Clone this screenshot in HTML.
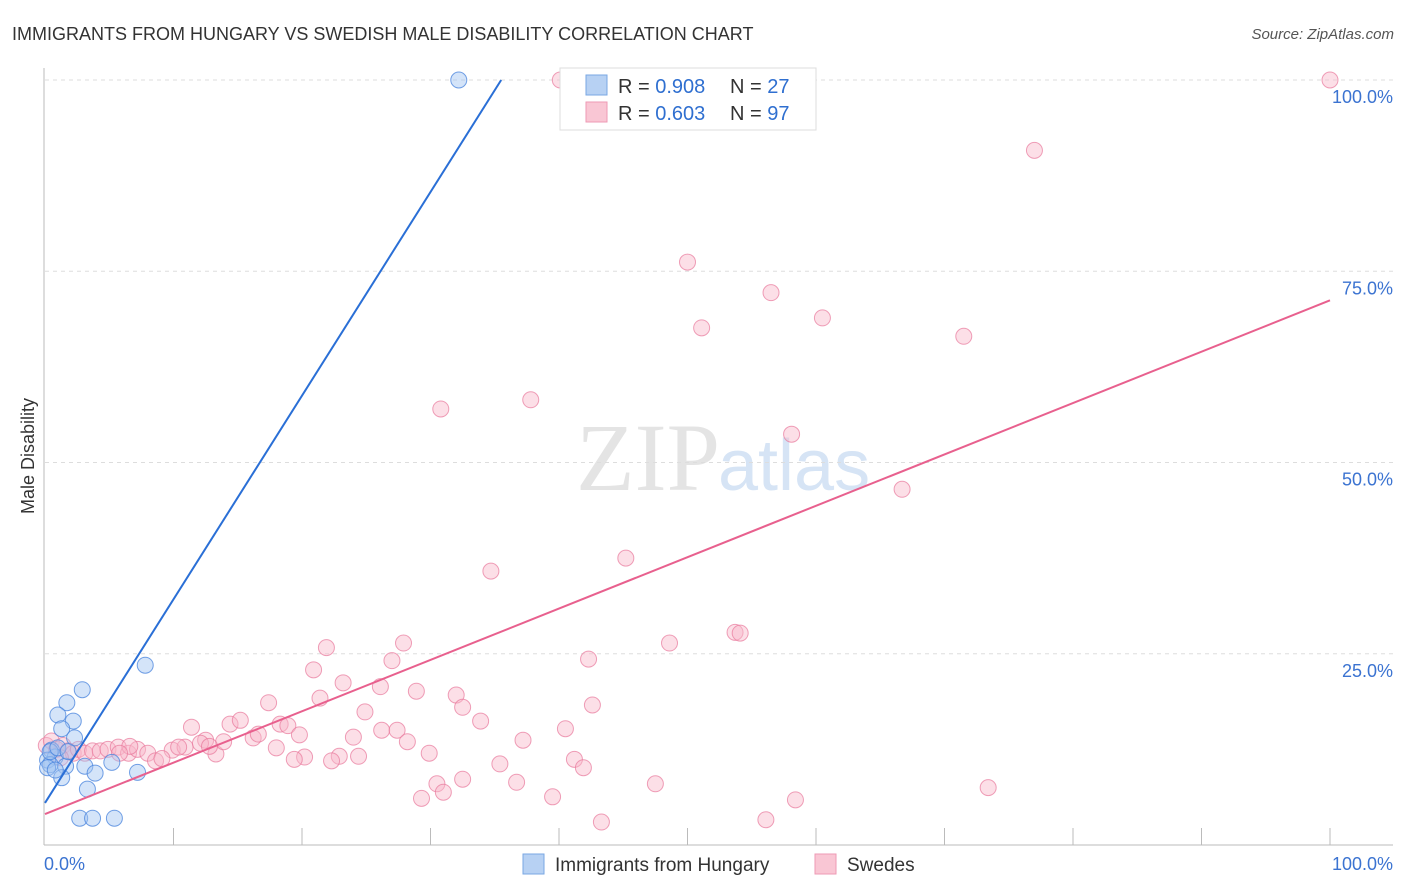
<!DOCTYPE html>
<html><head><meta charset="utf-8"><style>
body{margin:0;background:#fff;font-family:"Liberation Sans",sans-serif;}
svg{display:block}
</style></head><body>
<svg id="chart" width="1406" height="892" xmlns="http://www.w3.org/2000/svg">
<text x="12" y="40" font-size="18" fill="#333">IMMIGRANTS FROM HUNGARY VS SWEDISH MALE DISABILITY CORRELATION CHART</text>
<text x="1394" y="39" font-size="15" fill="#555" font-style="italic" text-anchor="end">Source: ZipAtlas.com</text>
<text x="720" y="490" font-size="96" fill="#e4e4e4" text-anchor="end" font-family="Liberation Serif, serif">ZIP</text>
<text x="718" y="490" font-size="72" fill="#d6e4f5">atlas</text>
<g id="grid"></g>
<g id="axes"></g>
<g id="pts"></g>
<g id="lines"></g>
<text transform="translate(34,456) rotate(-90)" font-size="18" fill="#333" text-anchor="middle">Male Disability</text>
<g>
<rect x="560" y="68" width="256" height="62" fill="#fff" stroke="#ddd"/>
<rect x="586" y="75" width="21" height="20" fill="#b7d1f3" stroke="#7aa7e3"/>
<rect x="586" y="102" width="21" height="20" fill="#f9c6d4" stroke="#ee9ab4"/>
<text x="618" y="93" font-size="20" fill="#333">R = <tspan fill="#2f6fd0">0.908</tspan></text>
<text x="730" y="93" font-size="20" fill="#333">N = <tspan fill="#2f6fd0">27</tspan></text>
<text x="618" y="120" font-size="20" fill="#333">R = <tspan fill="#2f6fd0">0.603</tspan></text>
<text x="730" y="120" font-size="20" fill="#333">N = <tspan fill="#2f6fd0">97</tspan></text>
</g>
<g>
<rect x="523" y="854" width="21" height="20" fill="#b7d1f3" stroke="#7aa7e3"/>
<text x="555" y="871" font-size="19" fill="#333">Immigrants from Hungary</text>
<rect x="815" y="854" width="21" height="20" fill="#f9c6d4" stroke="#ee9ab4"/>
<text x="847" y="871" font-size="19" fill="#333">Swedes</text>
</g>
</svg>
<script>
const yTicks=[25,50,75,100];
const yTickLabels=["25.0%","50.0%","75.0%","100.0%"];
const xTickLabels=["0.0%","100.0%"];
const hungaryX=[32.2,7.8,2.9,1.7,1.0,2.2,1.3,2.3,0.5,0.8,0.2,0.4,1.6,3.1,5.2,3.9,1.3,3.3,7.2,2.7,3.7,5.4,0.4,1.0,1.8,0.2,0.8];
const hungaryY=[100,23.5,20.3,18.6,17.0,16.2,15.2,14.0,12.4,11.5,11.1,10.5,10.3,10.3,10.8,9.4,8.8,7.3,9.5,3.5,3.5,3.5,12.2,12.7,12.2,10.1,9.8];
const swedesX=[40.1,100,77.0,50.0,56.5,51.1,60.5,71.5,30.8,37.8,58.1,66.7,45.2,34.7,53.7,54.1,48.6,21.9,27.9,27.0,42.3,20.9,23.2,26.1,28.9,32.0,21.4,17.4,32.5,42.6,24.9,11.4,14.4,15.2,18.3,18.9,33.9,40.5,19.8,24.0,26.2,27.4,37.2,28.2,16.2,12.5,18.0,9.9,10.9,13.3,13.9,16.6,22.9,24.4,29.9,41.2,20.2,19.4,22.3,35.4,41.9,32.5,30.5,31.0,36.7,29.3,39.5,47.5,73.4,58.4,43.3,56.1,0.1,0.5,0.9,1.4,1.8,2.2,2.6,3.1,3.7,4.3,4.9,5.7,6.5,7.2,8.0,8.6,9.1,10.4,12.1,12.8,6.6,5.8,1.2];
const swedesY=[100,100,90.8,76.2,72.2,67.6,68.9,66.5,57.0,58.2,53.7,46.5,37.5,35.8,27.8,27.7,26.4,25.8,26.4,24.1,24.3,22.9,21.2,20.7,20.1,19.6,19.2,18.6,18.0,18.3,17.4,15.4,15.8,16.3,15.8,15.6,16.2,15.2,14.4,14.1,15.0,15.0,13.7,13.5,14.0,13.7,12.7,12.4,12.8,11.9,13.5,14.5,11.6,11.6,12.0,11.2,11.5,11.2,11.0,10.6,10.1,8.6,8.0,6.9,8.2,6.1,6.3,8.0,7.5,5.9,3.0,3.3,13.0,13.6,12.5,13.0,12.3,12.0,12.5,12.0,12.3,12.3,12.5,12.8,12.0,12.5,12.0,11.0,11.3,12.8,13.3,12.9,12.9,12.0,11.4];
const blueLineX=[0,35.5]; const blueLineY=[5.5,100];
const pinkLineX=[0,100]; const pinkLineY=[4.05,71.2];
const NS="http://www.w3.org/2000/svg";
const X0=45,X1=1330,Y0=845,Y1=80;
const sx=v=>X0+v/100*(X1-X0);
const sy=v=>Y0-v/100*(Y0-Y1);
function mk(t,a,p){const e=document.createElementNS(NS,t);for(const k in a)e.setAttribute(k,a[k]);p.appendChild(e);return e;}
const grid=document.getElementById('grid'),axes=document.getElementById('axes');
yTicks.forEach((v,i)=>{
 const l=mk('line',{x1:X0,x2:1393,y1:sy(v),y2:sy(v),stroke:'#ddd','stroke-dasharray':'4,4'},grid);
 
 
 const t=mk('text',{x:1393,y:sy(v)+23,'font-size':18,fill:'#3b73d1','text-anchor':'end'},axes);
 t.textContent=yTickLabels[i];
 
 
});
const ya=mk('line',{x1:44,x2:44,y1:68,y2:845,stroke:'#bbb'},axes);


const xa=mk('line',{x1:44,x2:1393,y1:845,y2:845,stroke:'#bbb'},axes);


for(let i=1;i<=10;i++){const tk=mk('line',{x1:sx(i*10),x2:sx(i*10),y1:828,y2:845,stroke:'#bbb'},axes);
 
 }
[[0,'start',44],[1,'end',1393]].forEach(([i,a,x])=>{const t=mk('text',{x:x,y:870,'font-size':18,fill:'#3b73d1','text-anchor':a},axes);t.textContent=xTickLabels[i];
 
 });
const pts=document.getElementById('pts');
swedesX.forEach((v,i)=>{const c=mk('circle',{cx:sx(v),cy:sy(swedesY[i]),r:8,fill:'rgba(248,183,202,0.45)',stroke:'rgba(232,120,155,0.7)','stroke-width':1},pts);
 
 });
hungaryX.forEach((v,i)=>{const c=mk('circle',{cx:sx(v),cy:sy(hungaryY[i]),r:8,fill:'rgba(160,196,242,0.45)',stroke:'rgba(70,130,220,0.75)','stroke-width':1},pts);
 
 });
const lines=document.getElementById('lines');
const bl=mk('line',{x1:sx(blueLineX[0]),y1:sy(blueLineY[0]),x2:sx(blueLineX[1]),y2:sy(blueLineY[1]),stroke:'#2a6fd6','stroke-width':2},lines);


const pl=mk('line',{x1:sx(pinkLineX[0]),y1:sy(pinkLineY[0]),x2:sx(pinkLineX[1]),y2:sy(pinkLineY[1]),stroke:'#e8608e','stroke-width':2},lines);


</script>
</body></html>
